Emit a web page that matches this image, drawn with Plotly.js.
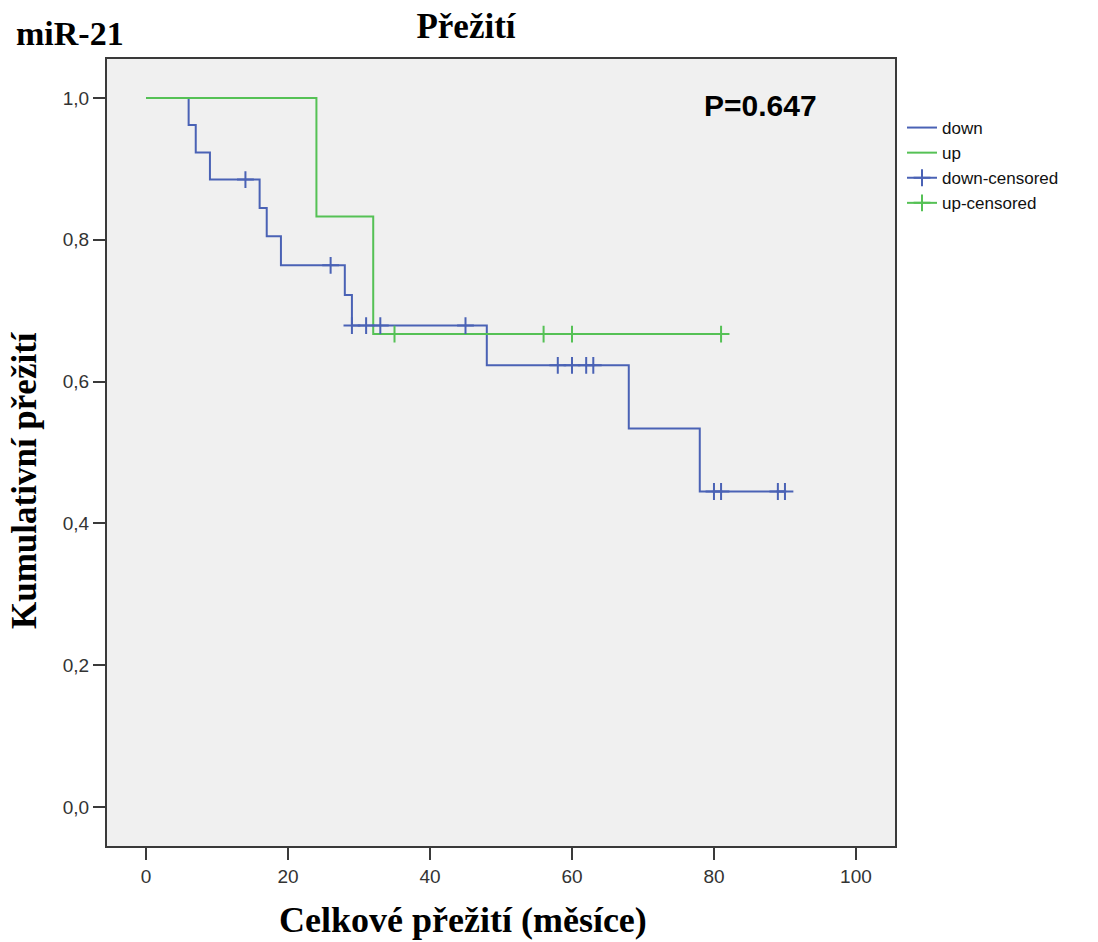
<!DOCTYPE html>
<html>
<head>
<meta charset="utf-8">
<script src="https://cdn.plot.ly/plotly-3.0.1.min.js"></script>
<style>
  html, body { margin: 0; padding: 0; background: #ffffff; }
  #chart { width: 1098px; height: 942px; }
</style>
</head>
<body>
<div id="chart"></div>
<script>
// ---- Data ----
const downTimes = [0, 6, 7, 9, 16, 17, 19, 28, 29, 48, 68, 78, 90];
const downSurv  = [1.0, 0.962, 0.923, 0.885, 0.845, 0.805, 0.764, 0.722, 0.679, 0.623, 0.534, 0.445, 0.445];
const downCensTimes = [14, 26, 29, 31, 33, 45, 58, 60, 62, 63, 80, 81, 89, 90];
const downCensSurv  = [0.885, 0.764, 0.679, 0.679, 0.679, 0.679, 0.623, 0.623, 0.623, 0.623, 0.445, 0.445, 0.445, 0.445];

const upTimes = [0, 24, 32, 81];
const upSurv  = [1.0, 0.833, 0.667, 0.667];
const upCensTimes = [35, 56, 60, 81];
const upCensSurv  = [0.667, 0.667, 0.667, 0.667];

const seriesNames = ['down', 'up', 'down-censored', 'up-censored'];
const xTickVals = [0, 20, 40, 60, 80, 100];
const xTickText = ['0', '20', '40', '60', '80', '100'];
const yTickVals = [0, 0.2, 0.4, 0.6, 0.8, 1.0];
const yTickText = ['0,0', '0,2', '0,4', '0,6', '0,8', '1,0'];

const chartTitle = 'Přežití';
const groupLabel = 'miR-21';
const pValueLabel = 'P=0.647';
const xTitle = 'Celkové přežití (měsíce)';
const yTitle = 'Kumulativní přežití';

// ---- Styling ----
const blue = '#4A62B5';
const green = '#55C155';
const serif = '"Liberation Serif", "Times New Roman", serif';
const sans = '"Liberation Sans", Arial, sans-serif';

// isolated points (gaps between) so legend shows line+cross but plot shows only ticks
function gapped(arr) {
  const out = [];
  arr.forEach((v, i) => { if (i) out.push(null); out.push(v); });
  return out;
}

const W = 1098, H = 942;
const M = { l: 107, r: 203, t: 59, b: 96 };
const pw = W - M.l - M.r, ph = H - M.t - M.b;
const px = v => (v - M.l) / pw;
const py = v => (H - M.b - v) / ph;

const traces = [
  {
    x: downTimes, y: downSurv, name: seriesNames[0],
    mode: 'lines', line: { color: blue, width: 2, shape: 'hv' },
    hoverinfo: 'x+y'
  },
  {
    x: upTimes, y: upSurv, name: seriesNames[1],
    mode: 'lines', line: { color: green, width: 2, shape: 'hv' },
    hoverinfo: 'x+y'
  },
  {
    x: gapped(downCensTimes), y: gapped(downCensSurv), name: seriesNames[2],
    mode: 'lines+markers', connectgaps: false,
    line: { color: blue, width: 2 },
    marker: { symbol: 'cross-thin-open', size: 12, line: { color: blue, width: 2 } },
    hoverinfo: 'x+y'
  },
  {
    x: gapped(upCensTimes), y: gapped(upCensSurv), name: seriesNames[3],
    mode: 'lines+markers', connectgaps: false,
    line: { color: green, width: 2 },
    marker: { symbol: 'cross-thin-open', size: 12, line: { color: green, width: 2 } },
    hoverinfo: 'x+y'
  }
];

const axisCommon = {
  showgrid: false, zeroline: false,
  showline: true, linecolor: '#3a3a3a', linewidth: 2, mirror: true,
  ticks: 'outside', ticklen: 12, tickwidth: 2, tickcolor: '#3a3a3a',
  tickfont: { family: sans, size: 19, color: '#333333' },
  fixedrange: true
};

const layout = {
  width: W, height: H,
  margin: M,
  paper_bgcolor: '#ffffff',
  plot_bgcolor: '#F0F0F0',
  title: {
    text: chartTitle,
    x: 466 / W, xanchor: 'center', xref: 'container',
    y: 1 - 26 / H, yanchor: 'middle', yref: 'container',
    font: { family: serif, size: 35, color: '#000000', weight: 'bold' }
  },
  xaxis: Object.assign({}, axisCommon, {
    range: [-5.5, 105.5],
    tickvals: xTickVals, ticktext: xTickText
  }),
  yaxis: Object.assign({}, axisCommon, {
    range: [-0.055, 1.055],
    tickvals: yTickVals, ticktext: yTickText
  }),
  showlegend: true,
  legend: {
    x: px(902), xanchor: 'left',
    y: py(110), yanchor: 'top',
    bgcolor: 'rgba(0,0,0,0)',
    font: { family: sans, size: 17, color: '#111111' },
    itemwidth: 30,
    tracegroupgap: 0
  },
  annotations: [
    {
      text: groupLabel, xref: 'paper', yref: 'paper',
      x: px(70), y: py(33), xanchor: 'center', yanchor: 'middle',
      showarrow: false,
      font: { family: serif, size: 34, color: '#000000', weight: 'bold' }
    },
    {
      text: pValueLabel, xref: 'paper', yref: 'paper',
      x: px(760), y: py(105), xanchor: 'center', yanchor: 'middle',
      showarrow: false,
      font: { family: sans, size: 30, color: '#000000', weight: 'bold' }
    },
    {
      text: xTitle, xref: 'paper', yref: 'paper',
      x: px(463), y: py(920), xanchor: 'center', yanchor: 'middle',
      showarrow: false,
      font: { family: serif, size: 36, color: '#000000', weight: 'bold' }
    },
    {
      text: yTitle, xref: 'paper', yref: 'paper',
      x: px(24), y: py(480), xanchor: 'center', yanchor: 'middle',
      textangle: -90, showarrow: false,
      font: { family: serif, size: 35, color: '#000000', weight: 'bold' }
    }
  ]
};

Plotly.newPlot('chart', traces, layout, { displayModeBar: false, staticPlot: false });
</script>
</body>
</html>
